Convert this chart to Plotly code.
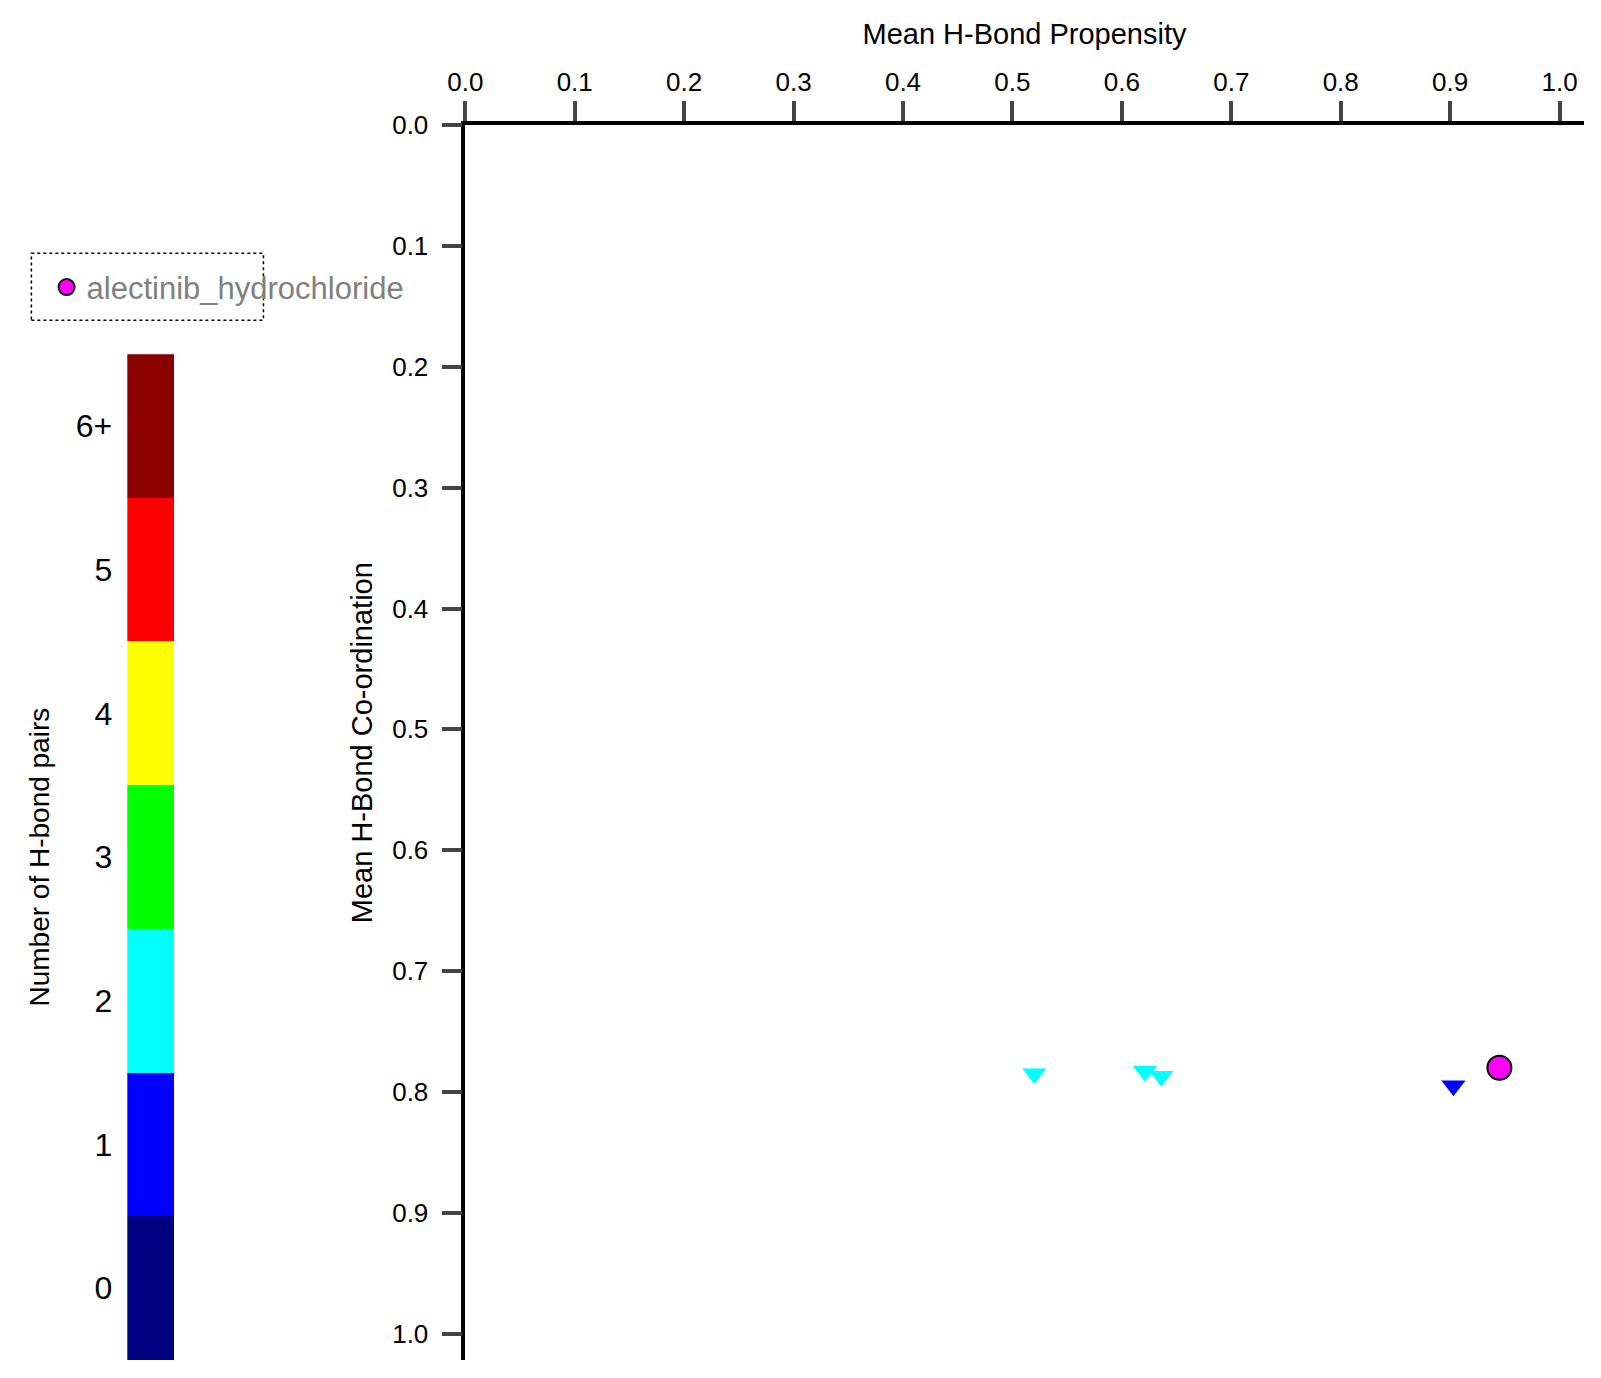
import plotly.graph_objects as go

# H-bond points (propensity, co-ordination, number of pairs)
prop = [0.52, 0.621, 0.636, 0.903]
coord = [0.785, 0.783, 0.787, 0.795]
pair_colors = ['cyan', 'cyan', 'cyan', 'blue']

target_name = 'alectinib_hydrochloride'
target_prop = [0.945]
target_coord = [0.780]

# colour key
key_labels = ['0', '1', '2', '3', '4', '5', '6+']
key_colors = ['#000080', '#0000ff', '#00ffff', '#00ff00', '#ffff00', '#ff0000', '#8b0000']

fig = go.Figure()

fig.add_trace(go.Scatter(x=prop, y=coord, mode='markers', showlegend=False,
                         marker=dict(symbol='triangle-down', size=21, color=pair_colors)))
fig.add_trace(go.Scatter(x=target_prop, y=target_coord, mode='markers', name=target_name,
                         marker=dict(symbol='circle', size=24, color='magenta',
                                     line=dict(color='black', width=2))))

for lab, col in zip(key_labels, key_colors):
    fig.add_trace(go.Bar(x=['k'], y=[1], marker=dict(color=col, line=dict(width=0)),
                         xaxis='x2', yaxis='y2', showlegend=False, width=1, name=lab))

fig.update_layout(
    width=1601, height=1378,
    margin=dict(l=0, r=0, t=0, b=0),
    paper_bgcolor='white', plot_bgcolor='white',
    font=dict(family='Arial, Liberation Sans', size=26, color='black'),
    barmode='stack', bargap=0,
    xaxis=dict(domain=[0.2775, 0.984], range=[0, 1.022], side='top',
               tickvals=[i / 10 for i in range(11)], tickformat='.1f',
               ticks='outside', ticklen=20, tickwidth=3.5, showline=True, linewidth=3.5,
               linecolor='black', showgrid=False, zeroline=False,
               title=dict(text='Mean H-Bond Propensity', font=dict(size=29))),
    yaxis=dict(domain=[0.019, 0.925], range=[1.022, 0],
               tickvals=[i / 10 for i in range(11)], tickformat='.1f',
               ticks='outside', ticklen=20, tickwidth=3.5, showline=True, linewidth=3.5,
               linecolor='black', showgrid=False, zeroline=False, ticklabelstandoff=8,
               title=dict(text='Mean H-Bond Co-ordination', font=dict(size=29), standoff=12)),
    xaxis2=dict(domain=[0.064, 0.094], anchor='y2', showticklabels=False, showgrid=False,
                zeroline=False, showline=False),
    yaxis2=dict(domain=[0.019, 0.757], anchor='x2', range=[0, 7],
                tickvals=[i + 0.5 for i in range(7)], ticktext=key_labels,
                tickfont=dict(size=32), ticks='', ticklabelstandoff=14,
                showgrid=False, zeroline=False, showline=False,
                title=dict(text='Number of H-bond pairs', font=dict(size=28), standoff=18)),
    legend=dict(x=0.013, y=0.806, xanchor='left', yanchor='middle', bgcolor='rgba(0,0,0,0)',
                font=dict(size=31, color='gray'), itemwidth=30, tracegroupgap=0),
    shapes=[dict(type='rect', xref='paper', yref='paper', x0=0.0034, x1=0.150,
                 y0=0.782, y1=0.831,
                 line=dict(color='black', width=1.5, dash='dot'))],
)

fig.write_html('out.html')
